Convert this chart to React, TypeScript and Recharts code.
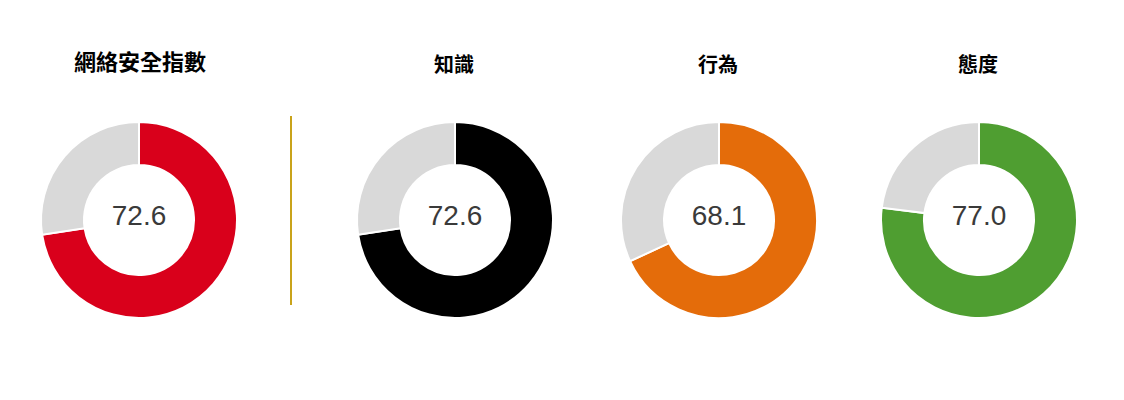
import React from "react";
import { PieChart, Pie, Cell } from "recharts";

const titles = ["網絡安全指數", "知識", "行為", "態度"];
const scores = [72.6, 72.6, 68.1, 77.0];
const remainders = [27.4, 27.4, 31.9, 23.0];
const scoreColors = ["#d9001b", "#000000", "#e46c0a", "#4f9e31"];
const restColor = "#d9d9d9";

const centersX = [131, 447, 711, 971];
const CY = 212;

export default function App() {
  return (
    <div style={{ width: 1108, height: 384 }}>
      <PieChart width={1108} height={384} margin={{ top: 0, right: 0, bottom: 0, left: 0 }}>
        {scores.map((s, i) => (
          <Pie
            key={"p" + i}
            data={[
              { name: "score", value: s },
              { name: "rest", value: remainders[i] },
            ]}
            dataKey="value"
            cx={centersX[i]}
            cy={CY}
            innerRadius={55}
            outerRadius={98}
            startAngle={90}
            endAngle={-270}
            stroke="#ffffff"
            strokeWidth={2}
            isAnimationActive={false}
          >
            <Cell fill={scoreColors[i]} />
            <Cell fill={restColor} />
          </Pie>
        ))}
        {scores.map((s, i) => (
          <text
            key={"v" + i}
            x={centersX[i]}
            y={CY - 5}
            textAnchor="middle"
            dominantBaseline="central"
            fontFamily="Liberation Sans, Arial, sans-serif"
            fontSize={28}
            fill="#3a3a3a"
          >
            {s.toFixed(1)}
          </text>
        ))}
        {titles.map((t, i) => (
          <text
            key={"t" + i}
            x={i === 0 ? 132 : centersX[i] - 1}
            y={i === 0 ? 52 : 55}
            textAnchor="middle"
            dominantBaseline="central"
            fontFamily="Noto Sans CJK TC, sans-serif"
            fontWeight="bold"
            fontSize={i === 0 ? 22 : 20}
            fill="#000000"
          >
            {t}
          </text>
        ))}
        <line x1={283} y1={108} x2={283} y2={297} stroke="#c9a31a" strokeWidth={2} />
      </PieChart>
    </div>
  );
}
